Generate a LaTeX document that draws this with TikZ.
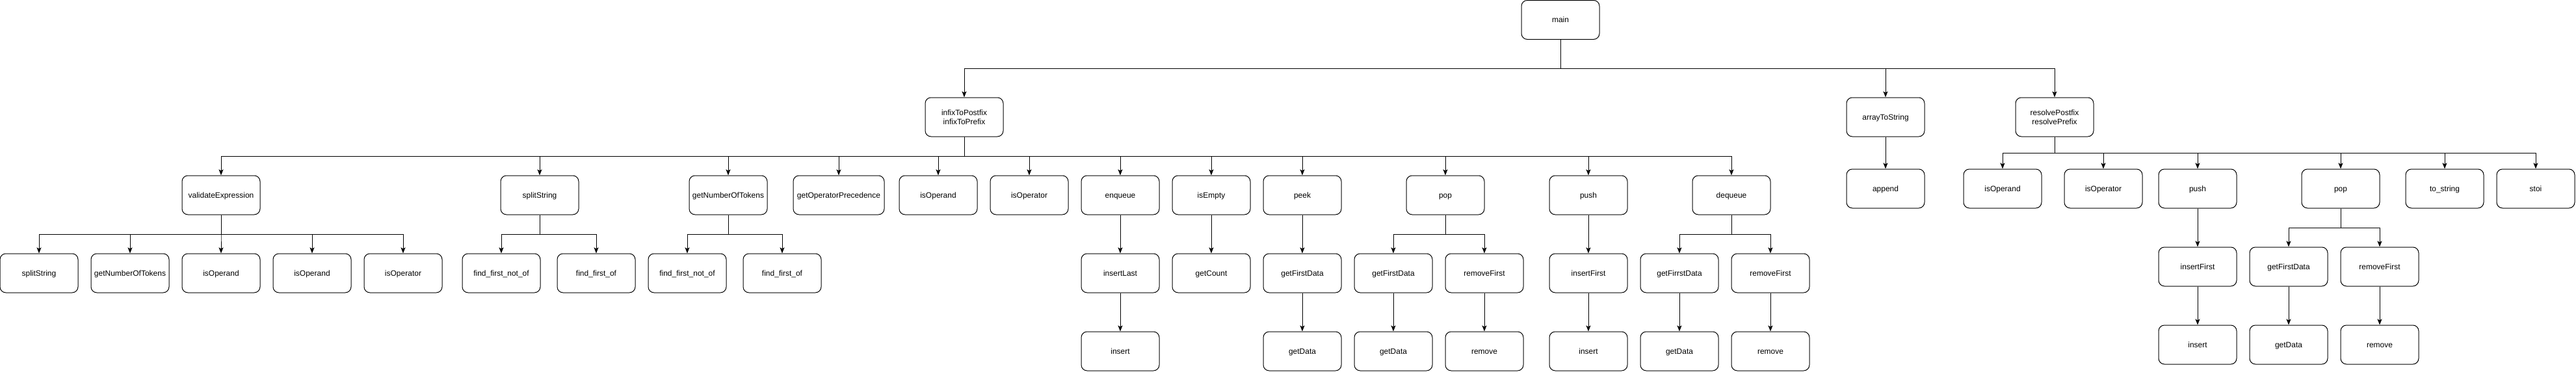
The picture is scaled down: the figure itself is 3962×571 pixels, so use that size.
\documentclass[tikz,border=0pt]{standalone}
\usepackage{fontspec}
\setmainfont{Liberation Sans}
\usetikzlibrary{arrows.meta}
\begin{document}
\begin{tikzpicture}[x=1pt,y=-1pt,
  boxbase/.style={draw, line width=1pt, rounded corners=9pt, minimum width=120pt, minimum height=60pt, inner sep=0pt, align=center, font=\fontsize{12}{14}\selectfont},
  box/.style={boxbase, text height=10.9pt, text depth=2.5pt},
  box2/.style={boxbase},
  conn/.style={draw, line width=1pt, -{Stealth[length=9pt,width=7pt,inset=2pt]}}]
\useasboundingbox (0,0) rectangle (3962,571);
% bus levels
\coordinate (b1) at (0,105);
\coordinate (b2) at (0,240);
\coordinate (b3) at (0,360);
\coordinate (br) at (0,235);
\coordinate (brp) at (0,350);
% level 0 / 1
\node[box] (main) at (2400,30.5) {main};
\node[box2] (infix) at (1483,180) {infixToPostfix\\infixToPrefix};
\node[box] (arrs) at (2900,180) {arrayToString};
\node[box2] (res) at (3160,180) {resolvePostfix\\resolvePrefix};
% level 2 under infix
\node[box] (val) at (340,300) {validateExpression};
\node[box] (split) at (830,300) {splitString};
\node[box] (gnt) at (1120,300) {getNumberOfTokens};
\node[box, minimum width=140pt] (gop) at (1290,300) {getOperatorPrecedence};
\node[box] (iso) at (1443,300) {isOperand};
\node[box] (isop) at (1583,300) {isOperator};
\node[box] (enq) at (1723,300) {enqueue};
\node[box] (ise) at (1863,300) {isEmpty};
\node[box] (peek) at (2003,300) {peek};
\node[box] (pop) at (2223,300) {pop};
\node[box] (push) at (2443,300) {push};
\node[box] (deq) at (2663,300) {dequeue};
% level 3
\node[box] (vsplit) at (60,420) {splitString};
\node[box] (vgnt) at (200,420) {getNumberOfTokens};
\node[box] (viso1) at (340,420) {isOperand};
\node[box] (viso2) at (480,420) {isOperand};
\node[box] (visop) at (620,420) {isOperator};
\node[box] (sfnot) at (771,420) {find\_first\_not\_of};
\node[box] (sf) at (917,420) {find\_first\_of};
\node[box] (gfnot) at (1057,420) {find\_first\_not\_of};
\node[box] (gf) at (1203,420) {find\_first\_of};
\node[box] (enqil) at (1723,420) {insertLast};
\node[box] (isegc) at (1863,420) {getCount};
\node[box] (peekgfd) at (2003,420) {getFirstData};
\node[box] (popgfd) at (2143,420) {getFirstData};
\node[box] (poprf) at (2283,420) {removeFirst};
\node[box] (pushif) at (2443,420) {insertFirst};
\node[box] (deqgfd) at (2583,420) {getFirrstData};
\node[box] (deqrf) at (2723,420) {removeFirst};
% level 4
\node[box] (enqins) at (1723,540) {insert};
\node[box] (peekgd) at (2003,540) {getData};
\node[box] (popgd) at (2143,540) {getData};
\node[box] (poprm) at (2283,540) {remove};
\node[box] (pushins) at (2443,540) {insert};
\node[box] (deqgd) at (2583,540) {getData};
\node[box] (deqrm) at (2723,540) {remove};
% arrayToString child
\node[box] (app) at (2900,290) {append};
% resolve subtree
\node[box] (riso) at (3080,290) {isOperand};
\node[box] (risop) at (3235,290) {isOperator};
\node[box] (rpush) at (3380,290) {push};
\node[box] (rpop) at (3600,290) {pop};
\node[box] (rtos) at (3760,290) {to\_string};
\node[box] (rstoi) at (3900,290) {stoi};
\node[box] (rif) at (3380,410) {insertFirst};
\node[box] (rgfd) at (3520,410) {getFirstData};
\node[box] (rrf) at (3660,410) {removeFirst};
\node[box] (rins) at (3380,530) {insert};
\node[box] (rgd) at (3520,530) {getData};
\node[box] (rrm) at (3660,530) {remove};
% connectors via buses
\foreach \p/\c/\b in {main/infix/b1, main/arrs/b1, main/res/b1,
  infix/val/b2, infix/split/b2, infix/gnt/b2, infix/gop/b2, infix/iso/b2, infix/isop/b2,
  infix/enq/b2, infix/ise/b2, infix/peek/b2, infix/pop/b2, infix/push/b2, infix/deq/b2,
  val/vsplit/b3, val/vgnt/b3, val/viso1/b3, val/viso2/b3, val/visop/b3,
  split/sfnot/b3, split/sf/b3, gnt/gfnot/b3, gnt/gf/b3,
  pop/popgfd/b3, pop/poprf/b3, deq/deqgfd/b3, deq/deqrf/b3,
  res/riso/br, res/risop/br, res/rpush/br, res/rpop/br, res/rtos/br, res/rstoi/br,
  rpop/rgfd/brp, rpop/rrf/brp}
  \draw[conn] (\p.south) -- (\p.south |- \b) -| (\c.north);
% straight connectors
\foreach \p/\c in {arrs/app, enq/enqil, enqil/enqins, ise/isegc, peek/peekgfd, peekgfd/peekgd,
  popgfd/popgd, poprf/poprm, push/pushif, pushif/pushins, deqgfd/deqgd, deqrf/deqrm,
  rpush/rif, rif/rins, rgfd/rgd, rrf/rrm}
  \draw[conn] (\p.south) -- (\c.north);
\end{tikzpicture}
\end{document}
